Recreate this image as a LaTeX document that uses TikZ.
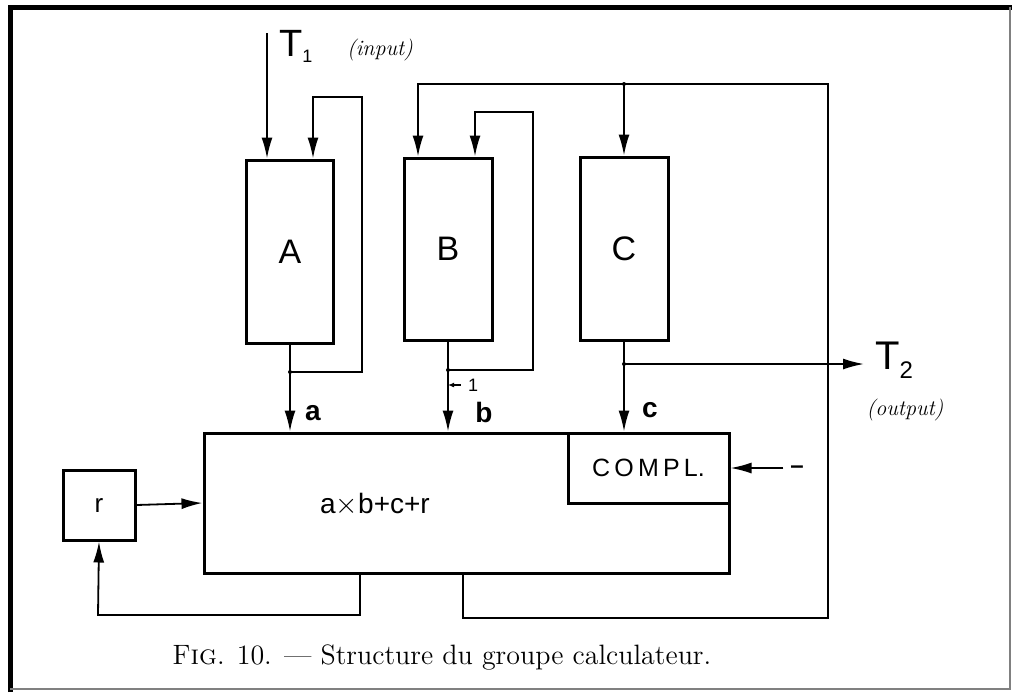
\documentclass[tikz,border=0pt]{standalone}
\usepackage{fontspec}
\newfontfamily\lettering{Liberation Sans}
\usetikzlibrary{arrows.meta}
\begin{document}
\begin{tikzpicture}[x=0.5pt,y=-0.5pt,
  box/.style={draw,line width=1.5pt,inner sep=0pt,font=\lettering},
  wire/.style={line width=0.9pt},
  arr/.style={wire,-{Latex[length=10.5pt,width=5.5pt]}},
  dot/.style={circle,fill,inner sep=0pt,minimum size=2pt}]
\useasboundingbox (0,0) rectangle (1012,692);
\fill[white] (0,0) rectangle (1012,692);
% frame
\draw[line width=2.5pt] (10,692) -- (10,7) -- (1012,7);
\draw[line width=0.6pt,gray] (10,689) -- (1010,689) -- (1010,7);
% boxes
\node[box,minimum width=43.5pt,minimum height=91.5pt,font=\lettering\fontsize{17}{20}\selectfont] (A) at (290,251.5) {A};
\node[box,minimum width=44pt,minimum height=91pt,font=\lettering\fontsize{17}{20}\selectfont] (B) at (448,249) {B};
\node[box,minimum width=44pt,minimum height=91.5pt,font=\lettering\fontsize{17}{20}\selectfont] (C) at (624,248.5) {C};
\node[box,minimum width=262.5pt,minimum height=70pt] (M) at (466.5,503) {};
\node[box,minimum width=80.5pt,minimum height=35pt,font=\lettering\fontsize{12.5}{14}\selectfont] (K) at (648.5,468) {C\,O\,M\,P\,L.};
\node[font=\lettering\fontsize{14}{16}\selectfont] (F) at (375,505) {a$\times$b+c+r};
\node[box,minimum width=36pt,minimum height=35pt,font=\lettering\fontsize{13}{15}\selectfont] (R) at (99,505) {r};
% labels
\node[font=\lettering\fontsize{19}{22}\selectfont,anchor=west] (T1) at (272,46) {T\raisebox{-0.3ex}{\fontsize{9}{11}\selectfont 1}};
\node[font=\fontsize{11}{13}\selectfont\itshape] (T1i) at (380,50) {(input)};
\node[font=\lettering\fontsize{20}{22}\selectfont,anchor=west] (T2) at (868,360) {T\raisebox{-0.45ex}{\fontsize{12}{14}\selectfont 2}};
\node[font=\fontsize{11}{13}\selectfont\itshape] (T2o) at (905,410) {(output)};
\node[font=\lettering\bfseries\fontsize{14}{16}\selectfont] (la) at (313,413) {a};
\node[font=\lettering\bfseries\fontsize{14}{16}\selectfont] (lb) at (484,412) {b};
\node[font=\lettering\bfseries\fontsize{14}{16}\selectfont] (lc) at (650,410) {c};
\node[font=\lettering\fontsize{9}{11}\selectfont] (one) at (473,385) {1};
\node[font=\lettering\bfseries\fontsize{12}{14}\selectfont] (minus) at (797,470) {\textendash};
\node[font=\fontsize{14}{16}\selectfont] (cap) at (442,657) {F\textsc{ig}. 10. --- Structure du groupe calculateur.};
% coordinates
\coordinate (t1) at (267,33);
\coordinate (ja) at (290,372);
\coordinate (jb) at (448,370);
\coordinate (jc) at (624,364);
\coordinate (t2) at (864,364);
\coordinate (top) at (624,84);
% A
\draw[arr] (t1) -- (t1 |- A.north);
\draw[arr] (A.south) -- (A.south |- M.north);
\draw[arr] (ja) -- (362,372) -- (362,97) -- (313,97) -- (313,0 |- A.north);
\node[dot] at (ja) {};
% B
\draw[arr] (B.south) -- (B.south |- M.north);
\draw[arr] (jb) -- (533,370) -- (533,112) -- (475,112) -- (475,0 |- B.north);
\node[dot] at (jb) {};
\draw[wire,-{Latex[length=3pt,width=2.5pt]}] (one.west) -- (jb |- one.west);
% C
\draw[arr] (C.south) -- (C.south |- M.north);
\draw[arr] (jc) -- (t2);
\node[dot] at (jc) {};
% feedback from main
\draw[arr] (463,0 |- M.south) -- (463,618) -- (828,618) -- (828,84) -- (418,84) -- (418,0 |- B.north);
\draw[arr] (top) -- (C.north);
\node[dot] at (top) {};
\draw[arr] (360,0 |- M.south) -- (360,615) -- (98,615) -- (R.south);
\draw[arr] (R.east) -- (M.west);
\draw[arr] (K.east -| minus.west) -- (K.east);
\end{tikzpicture}
\end{document}
